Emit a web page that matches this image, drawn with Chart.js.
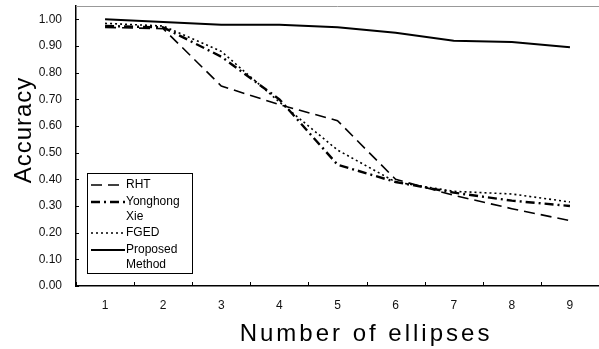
<!DOCTYPE html>
<html>
<head>
<meta charset="utf-8">
<script src="https://cdn.jsdelivr.net/npm/chart.js@4/dist/chart.umd.min.js"></script>
<style>
  html, body { margin: 0; padding: 0; background: #fff; }
  #wrap { width: 599px; height: 349px; position: relative; }
</style>
</head>
<body>
<div id="wrap"><canvas id="chart"></canvas></div>
<script>
const ellipseCounts = ['1', '2', '3', '4', '5', '6', '7', '8', '9'];
const accuracyTicks = [0, 0.1, 0.2, 0.3, 0.4, 0.5, 0.6, 0.7, 0.8, 0.9, 1.0];
const rhtValues = [0.97, 0.965, 0.75, 0.68, 0.62, 0.40, 0.34, 0.29, 0.245];
const xieValues = [0.975, 0.97, 0.86, 0.70, 0.455, 0.39, 0.35, 0.32, 0.30];
const fgedValues = [0.985, 0.975, 0.88, 0.69, 0.51, 0.39, 0.355, 0.345, 0.315];
const proposedValues = [1.0, 0.99, 0.98, 0.98, 0.97, 0.95, 0.92, 0.915, 0.895];

const seriesStyles = [
  { label: ['RHT'], data: rhtValues, dash: [11, 6], width: 1.6 },
  { label: ['Yonghong', 'Xie'], data: xieValues, dash: [9, 4, 2, 4], width: 2.4 },
  { label: ['FGED'], data: fgedValues, dash: [2, 3], width: 1.6 },
  { label: ['Proposed', 'Method'], data: proposedValues, dash: [], width: 2 },
];

const FONT = "'Liberation Sans', Arial, sans-serif";

// frame, inward ticks, axis titles and boxed legend
const framePlugin = {
  id: 'frame',
  afterDraw(chart) {
    const { ctx, chartArea: a, scales } = chart;
    ctx.save();
    ctx.strokeStyle = '#999';
    ctx.lineWidth = 1;
    ctx.beginPath();
    ctx.moveTo(a.left, a.top + 0.5);
    ctx.lineTo(a.right, a.top + 0.5);
    ctx.stroke();

    ctx.strokeStyle = '#000';
    ctx.beginPath();
    scales.y.ticks.forEach(t => {
      const y = Math.round(scales.y.getPixelForValue(t.value)) + 0.5;
      ctx.moveTo(a.left, y);
      ctx.lineTo(a.left + 3, y);
    });
    const n = ellipseCounts.length;
    for (let i = 0; i <= n; i++) {
      const x = Math.round(scales.x.getPixelForValue(i - 0.5)) + 0.5;
      ctx.moveTo(x, a.bottom);
      ctx.lineTo(x, a.bottom - 4);
    }
    ctx.stroke();

    // axis titles (spaced out like the original)
    ctx.fillStyle = '#000';
    ctx.font = '24px ' + FONT;
    ctx.textAlign = 'center';
    ctx.textBaseline = 'middle';
    ctx.letterSpacing = '3px';
    ctx.fillText('Number of ellipses', 366, 334);
    ctx.save();
    ctx.translate(24, 130);
    ctx.rotate(-Math.PI / 2);
    ctx.letterSpacing = '1px';
    ctx.fillText('Accuracy', 0, 0);
    ctx.restore();
    ctx.letterSpacing = '0px';

    // legend box
    const bx = a.left + 11, by = a.bottom - 113, bw = 105, bh = 100;
    ctx.lineWidth = 1;
    ctx.strokeRect(bx + 0.5, by + 0.5, bw, bh);
    ctx.font = '12px ' + FONT;
    ctx.textAlign = 'left';
    let y = by + 12;
    seriesStyles.forEach(s => {
      ctx.beginPath();
      ctx.setLineDash(s.dash);
      ctx.lineWidth = s.width;
      ctx.moveTo(bx + 4, y);
      ctx.lineTo(bx + 38, y);
      ctx.stroke();
      ctx.setLineDash([]);
      s.label.forEach((line, k) => {
        ctx.fillText(line, bx + 39, y + k * 15);
      });
      y += s.label.length === 2 ? 31 : 17;
    });
    ctx.restore();
  }
};

new Chart(document.getElementById('chart'), {
  type: 'line',
  data: {
    labels: ellipseCounts,
    datasets: seriesStyles.map(s => ({
      label: s.label.join(' '),
      data: s.data,
      borderColor: '#000',
      borderWidth: s.width,
      borderDash: s.dash,
      pointRadius: 0,
      tension: 0,
      fill: false,
    })),
  },
  options: {
    responsive: true,
    maintainAspectRatio: false,
    animation: false,
    layout: { padding: { top: 6, left: 0, right: 0, bottom: 0 } },
    plugins: { legend: { display: false }, tooltip: { enabled: false } },
    scales: {
      x: {
        offset: true,
        grid: { display: false, drawTicks: false },
        border: { display: true, color: '#000', width: 1.5 },
        ticks: { color: '#111', font: { family: FONT, size: 12 }, padding: 12 },
        afterFit(scale) { scale.height = 63; scale.paddingLeft = 0; scale.paddingRight = 0; },
      },
      y: {
        min: 0,
        max: 1.05,
        ticks: {
          color: '#111',
          font: { family: FONT, size: 12 },
          padding: 14,
          callback: v => v.toFixed(2),
        },
        afterBuildTicks(scale) {
          scale.ticks = accuracyTicks.map(v => ({ value: v }));
        },
        grid: { display: false, drawTicks: false },
        border: { display: true, color: '#000', width: 1.5 },
        afterFit(scale) { scale.width = 76; scale.paddingTop = 0; scale.paddingBottom = 0; },
      },
    },
  },
  plugins: [framePlugin],
});
</script>
</body>
</html>
